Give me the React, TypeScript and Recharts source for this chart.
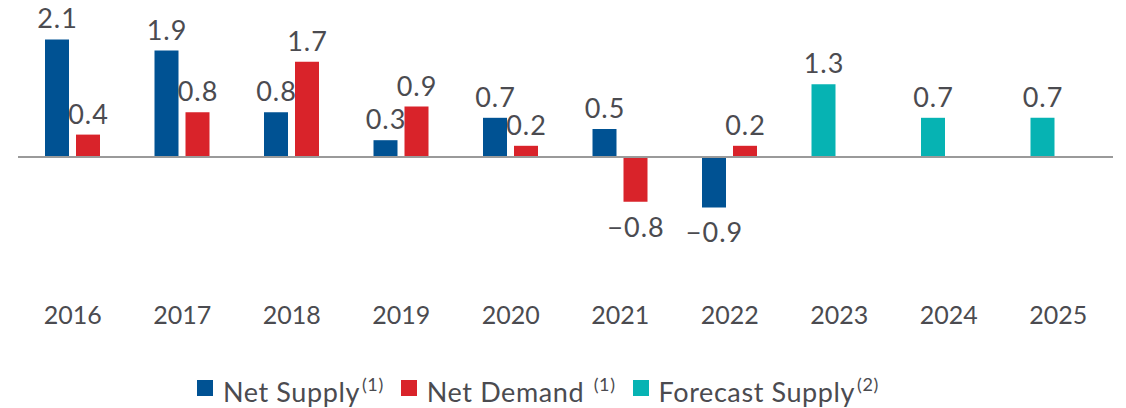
import React from 'react';
import { BarChart, Bar, XAxis, YAxis, ReferenceLine, Legend, LabelList } from 'recharts';

const years = ['2016', '2017', '2018', '2019', '2020', '2021', '2022', '2023', '2024', '2025'];
const netSupply = [2.1, 1.9, 0.8, 0.3, 0.7, 0.5, -0.9, null, null, null];
const netDemand = [0.4, 0.8, 1.7, 0.9, 0.2, -0.8, 0.2, null, null, null];
const forecastSupply = [null, null, null, null, null, null, null, 1.3, 0.7, 0.7];

const BLUE = '#005293';
const RED = '#d9232a';
const TEAL = '#06b3b3';
const TEXT = '#4b4b50';
const FONT = 'Lato, "Open Sans", sans-serif';

const legendItems = [
  { name: 'Net Supply', note: '(1)', color: BLUE, space: false },
  { name: 'Net Demand', note: '(1)', color: RED, space: true },
  { name: 'Forecast Supply', note: '(2)', color: TEAL, space: false },
];

const data = years.map((year, i) => ({
  year,
  netSupply: netSupply[i],
  netDemand: netDemand[i],
  forecastSupply: forecastSupply[i],
}));

// label above positive bars, below negative ones; value comes in as the year
const makeLabel = (values: (number | null)[]) => (props: any) => {
  const { x, y, width, height, value } = props;
  const v = values[years.indexOf(String(value))];
  if (v == null) return null;
  const top = Math.min(y, y + height);
  const bottom = Math.max(y, y + height);
  const ty = v >= 0 ? top - 11 : bottom + 35;
  const text = v < 0 ? '\u2212' + Math.abs(v).toFixed(1) : v.toFixed(1);
  return (
    <text
      x={x + width / 2 + 0.5}
      y={ty}
      textAnchor="middle"
      fontSize={27}
      letterSpacing={1}
      fill={TEXT}
      fontFamily={FONT}
    >
      {text}
    </text>
  );
};

const YearTick = (props: any) => {
  const { x, y, payload } = props;
  return (
    <text x={x} y={y + 83} textAnchor="middle" fontSize={25} fill={TEXT} fontFamily={FONT}>
      {payload.value}
    </text>
  );
};

const CustomLegend = () => (
  <div
    style={{
      display: 'flex',
      alignItems: 'center',
      height: 40,
      paddingLeft: 179,
      fontFamily: FONT,
      color: TEXT,
    }}
  >
    {legendItems.map((item) => (
      <div key={item.name} style={{ display: 'flex', alignItems: 'center', marginRight: 17 }}>
        <span style={{ width: 16, height: 16, background: item.color, marginRight: 10, display: 'inline-block' }} />
        <span style={{ fontSize: 27, lineHeight: '30px', letterSpacing: 0.6 }}>
          {item.name}
          {item.space ? ' ' : ''}
          <sup style={{ fontSize: 18, position: 'relative', top: -1, marginLeft: 2 }}>{item.note}</sup>
        </span>
      </div>
    ))}
  </div>
);

export default function App() {
  return (
    <div style={{ position: 'absolute', left: 0, top: 0, width: 1126, height: 408, background: '#fff' }}>
      <BarChart
        width={1126}
        height={408}
        data={data}
        margin={{ top: 17, right: 13, left: 18, bottom: 0 }}
        barSize={24}
        barGap={7}
        stackOffset="sign"
      >
        <XAxis
          dataKey="year"
          axisLine={false}
          tickLine={false}
          tickSize={0}
          tickMargin={0}
          height={127}
          tick={<YearTick />}
          interval={0}
        />
        <YAxis hide domain={[-1.5, 2.5]} allowDataOverflow />
        <Legend verticalAlign="bottom" content={<CustomLegend />} wrapperStyle={{ bottom: 0 }} />
        <Bar dataKey="netSupply" name="Net Supply" fill={BLUE} stackId="supply" isAnimationActive={false}>
          <LabelList dataKey="year" content={makeLabel(netSupply)} />
        </Bar>
        <Bar dataKey="forecastSupply" name="Forecast Supply" fill={TEAL} stackId="supply" isAnimationActive={false}>
          <LabelList dataKey="year" content={makeLabel(forecastSupply)} />
        </Bar>
        <Bar dataKey="netDemand" name="Net Demand" fill={RED} isAnimationActive={false}>
          <LabelList dataKey="year" content={makeLabel(netDemand)} />
        </Bar>
        <ReferenceLine y={0} stroke="#9a9a9a" strokeWidth={2} />
      </BarChart>
    </div>
  );
}
